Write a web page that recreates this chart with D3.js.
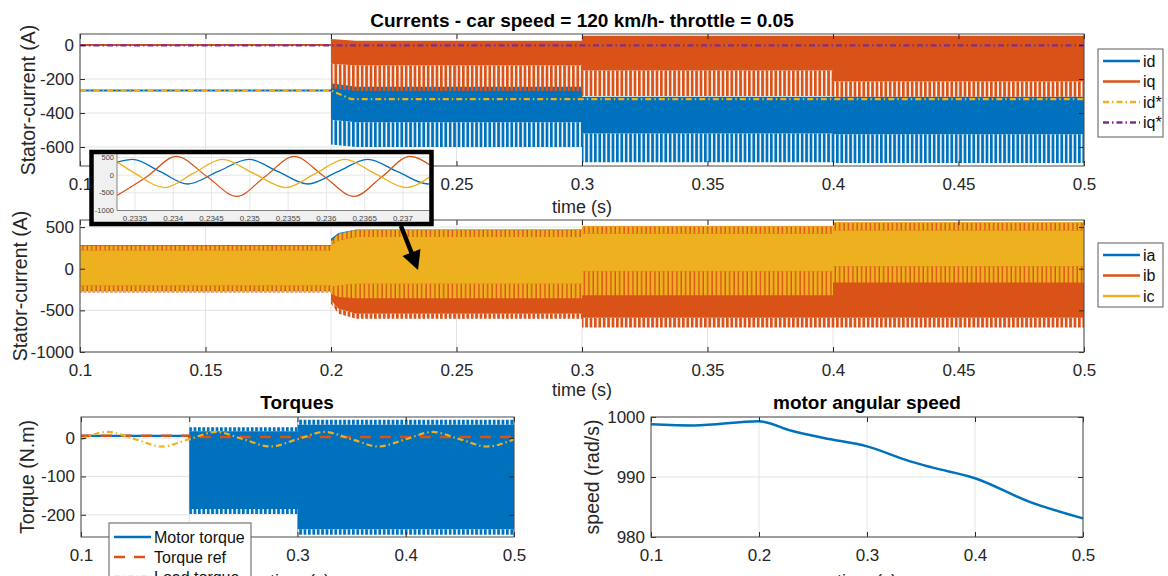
<!DOCTYPE html>
<html>
<head>
<meta charset="utf-8">
<script src="https://cdn.jsdelivr.net/npm/d3@7"></script>
<style>
  body { margin: 0; background: #fff; }
  svg { display: block; font-family: "Liberation Sans", Arial, Helvetica, sans-serif; }
</style>
</head>
<body>
<div id="chart"></div>
<script>
// ---------- values ----------
const timeTicks = [0.1, 0.15, 0.2, 0.25, 0.3, 0.35, 0.4, 0.45, 0.5];
const dqTicks = [0, -200, -400, -600];
const abcTicks = [500, 0, -500, -1000];
const smallTimeTicks = [0.1, 0.2, 0.3, 0.4, 0.5];
const torqueTicks = [0, -100, -200];
const speedTicks = [980, 990, 1000];
const insetTimeTicks = [0.2335, 0.234, 0.2345, 0.235, 0.2355, 0.236, 0.2365, 0.237, 0.2375];
const insetTicks = [500, 0, -500, -1000];

// d-q currents: envelopes of the oscillating traces (A)
const dqTime = [0.1, 0.2, 0.2, 0.21, 0.3, 0.3, 0.4, 0.4, 0.5];
const idHigh = [-262, -262, -225, -245, -245, -305, -305, -305, -305];
const idCore = [-274, -274, -440, -455, -455, -520, -520, -525, -525];
const idLow  = [-274, -274, -585, -600, -600, -690, -690, -695, -695];
const iqHigh = [6, 6, 35, 25, 25, 55, 55, 55, 55];
const iqCore = [-6, -6, -110, -120, -120, -150, -150, -215, -215];
const iqLow  = [-6, -6, -255, -270, -270, -300, -300, -305, -305];
const dqRefTime = [0.1, 0.2, 0.208, 0.5];
const idRef = [-268, -268, -318, -318];
const iqRef = [-2, -2, -2, -2];

// a-b-c currents: envelopes (A)
const abcTime = [0.1, 0.2, 0.2, 0.203, 0.21, 0.3, 0.3, 0.4, 0.4, 0.5];
const iaHigh = [280, 280, 360, 430, 470, 470, 500, 500, 540, 540];
const iaLow  = [-270, -270, -290, -320, -340, -340, -290, -290, -160, -160];
const ibHigh = [285, 285, 320, 410, 462, 462, 510, 510, 556, 556];
const ibCore = [-265, -265, -380, -480, -540, -540, -590, -590, -590, -590];
const ibLow  = [-285, -285, -420, -540, -600, -600, -705, -705, -705, -705];
const icHigh = [275, 275, 330, 420, 468, 468, 516, 516, 562, 562];
const icTopCore = [220, 220, 280, 340, 380, 380, 420, 420, 460, 460];
const icLowCore = [-200, -200, -220, -200, -180, -180, -30, -30, 30, 30];
const icLow  = [-280, -280, -300, -340, -355, -355, -320, -320, -165, -165];

// inset: zoom of the three phase currents
const iaZoomTime = [0.23327, 0.23347, 0.23383, 0.23419, 0.23458, 0.23499, 0.23537, 0.23576, 0.23615, 0.23654, 0.23693, 0.23733, 0.23738];
const iaZoom     = [370, 450, 100, -250, 100, 450, 100, -250, 100, 450, 100, -250, -240];
const ibZoomTime = [0.23327, 0.23366, 0.23404, 0.23444, 0.23483, 0.23520, 0.23558, 0.23597, 0.23636, 0.23673, 0.23709, 0.23738];
const ibZoom     = [-570, -35, 530, -35, -600, -35, 530, -35, -600, -35, 530, 250];
const icZoomTime = [0.23327, 0.23350, 0.23389, 0.23426, 0.23464, 0.23505, 0.23547, 0.23586, 0.23624, 0.23663, 0.23704, 0.23738];
const icZoom     = [370, 50, -350, 50, 450, 50, -350, 50, 450, 50, -350, 0];

// torques (N.m)
const torqueTime = [0.1, 0.2, 0.2, 0.3, 0.3, 0.5];
const motorHigh     = [9, 9, 28, 28, 48, 48];
const motorHighCore = [9, 9, 18, 18, 35, 35];
const motorLowCore  = [3, 3, -185, -185, -238, -238];
const motorLow      = [3, 3, -198, -198, -252, -252];
const refTime = [0.1, 0.2, 0.2, 0.5];
const torqueRef = [6, 6, 3, 3];
const loadTime = [0.1, 0.125, 0.15, 0.175, 0.2, 0.225, 0.25, 0.275, 0.3, 0.325, 0.35, 0.375, 0.4, 0.425, 0.45, 0.475, 0.5];
const loadTorque = [-3, 16, -3, -22, -3, 16, -3, -22, -3, 16, -3, -22, -3, 16, -3, -22, -3];

// motor angular speed (rad/s)
const speedTime = [0.1, 0.14, 0.2, 0.23, 0.26, 0.3, 0.34, 0.36, 0.4, 0.45, 0.5];
const speedValue = [998.8, 998.6, 999.3, 997.7, 996.5, 995.1, 992.6, 991.6, 989.8, 985.9, 983.1];

const dqNames = ["id", "iq", "id*", "iq*"];
const abcNames = ["ia", "ib", "ic"];
const torqueNames = ["Motor torque", "Torque ref", "Load torque"];

// ---------- drawing ----------
const blue = "#0072BD", orange = "#D95319", yellow = "#EDB120", purple = "#7E2F8E";
const ink = "#262626";
const dashDot = "6,3,1.5,3";

const svg = d3.select("#chart").append("svg")
    .attr("width", 1168)
    .attr("height", 576);
svg.append("rect").attr("width", 1168).attr("height", 576).attr("fill", "#fff");

const defs = svg.append("defs");
function stripes(id, color, bar) {
    const p = defs.append("pattern")
        .attr("id", id)
        .attr("patternUnits", "userSpaceOnUse")
        .attr("width", 4.4).attr("height", 10);
    p.append("rect").attr("width", bar).attr("height", 10).attr("fill", color);
}
stripes("stBlue", blue, 2.8);
stripes("stOrange", orange, 2.8);
stripes("stYellow", yellow, 3.0);

function grid(g, x, y, xt, yt, color) {
    const [b, t] = y.range(), [l, r] = x.range();
    g.append("g").selectAll("line").data(xt).join("line")
        .attr("x1", d => x(d)).attr("x2", d => x(d))
        .attr("y1", b).attr("y2", t)
        .attr("stroke", color || "#e3e3e3");
    g.append("g").selectAll("line").data(yt).join("line")
        .attr("x1", l).attr("x2", r)
        .attr("y1", d => y(d)).attr("y2", d => y(d))
        .attr("stroke", color || "#e3e3e3");
}

function band(g, x, y, time, lo, hi, fill) {
    const area = d3.area()
        .x(i => x(time[i]))
        .y0(i => y(lo[i]))
        .y1(i => y(hi[i]));
    g.append("path").attr("d", area(d3.range(time.length))).attr("fill", fill);
}

function trace(g, x, y, time, vals, color, width, dash, curve) {
    const line = d3.line()
        .x(i => x(time[i]))
        .y(i => y(vals[i]))
        .curve(curve || d3.curveLinear);
    g.append("path").attr("d", line(d3.range(time.length)))
        .attr("fill", "none")
        .attr("stroke", color)
        .attr("stroke-width", width)
        .attr("stroke-dasharray", dash || null);
}

function frame(g, x, y, xt, yt) {
    const [b, t] = y.range(), [l, r] = x.range();
    const fmt = d => String(d);
    const style = sel => {
        sel.select(".domain").remove();
        sel.selectAll(".tick line").attr("stroke", ink);
        sel.selectAll(".tick text").attr("fill", ink).style("font-size", "17px").style("font-family", "inherit");
    };
    g.append("g").attr("transform", `translate(0,${b})`)
        .call(d3.axisBottom(x).tickValues(xt).tickFormat(fmt).tickSizeInner(-5).tickSizeOuter(0).tickPadding(12))
        .call(style);
    g.append("g").attr("transform", `translate(0,${t})`)
        .call(d3.axisTop(x).tickValues(xt).tickFormat("").tickSizeInner(-5).tickSizeOuter(0))
        .call(style);
    g.append("g").attr("transform", `translate(${l},0)`)
        .call(d3.axisLeft(y).tickValues(yt).tickFormat(fmt).tickSizeInner(-5).tickSizeOuter(0).tickPadding(6))
        .call(style);
    g.append("g").attr("transform", `translate(${r},0)`)
        .call(d3.axisRight(y).tickValues(yt).tickFormat("").tickSizeInner(-5).tickSizeOuter(0))
        .call(style);
    g.append("rect")
        .attr("x", l).attr("y", t)
        .attr("width", r - l).attr("height", b - t)
        .attr("fill", "none").attr("stroke", "#4a4a4a");
}

function label(text, x, y, size, opts) {
    const o = opts || {};
    const t = svg.append("text")
        .attr("text-anchor", "middle")
        .attr("fill", o.color || ink)
        .style("font-size", size + "px")
        .style("font-weight", o.bold ? "bold" : "normal")
        .attr("dy", "0.35em")
        .text(text);
    if (o.rotate) t.attr("transform", `translate(${x},${y}) rotate(-90)`);
    else t.attr("x", x).attr("y", y);
    return t;
}

function legend(x0, y0, w, h, names, colors, dashes, rows) {
    const g = svg.append("g");
    g.append("rect").attr("x", x0).attr("y", y0).attr("width", w).attr("height", h)
        .attr("fill", "#fff").attr("stroke", "#5a5a5a");
    names.forEach((n, i) => {
        g.append("line")
            .attr("x1", x0 + 5).attr("x2", x0 + 42)
            .attr("y1", rows[i]).attr("y2", rows[i])
            .attr("stroke", colors[i]).attr("stroke-width", 2.5)
            .attr("stroke-dasharray", dashes[i]);
        g.append("text").attr("x", x0 + 45).attr("y", rows[i]).attr("dy", "0.35em")
            .attr("fill", "#111").style("font-size", "16px").text(n);
    });
}

// ---- top: d-q currents ----
const xTop = d3.scaleLinear().domain([0.1, 0.5]).range([80, 1084]);
const yTop = d3.scaleLinear().domain([-712, 65]).range([166, 34]);
const gTop = svg.append("g");
grid(gTop, xTop, yTop, timeTicks, dqTicks);
band(gTop, xTop, yTop, dqTime, idCore, idHigh, blue);
band(gTop, xTop, yTop, dqTime, idLow, idCore, "url(#stBlue)");
band(gTop, xTop, yTop, dqTime, iqCore, iqHigh, orange);
band(gTop, xTop, yTop, dqTime, iqLow, iqCore, "url(#stOrange)");
trace(gTop, xTop, yTop, dqRefTime, idRef, yellow, 2.2, dashDot);
trace(gTop, xTop, yTop, dqRefTime, iqRef, purple, 2.2, dashDot);
frame(gTop, xTop, yTop, timeTicks, dqTicks);
label("Currents - car speed = 120 km/h- throttle = 0.05", 582, 20, 19, {bold: true, color: "#000"});
label("time (s)", 582, 207, 18);
label("Stator-current (A)", 28, 100, 19.5, {rotate: true});
legend(1098, 49, 65, 88, dqNames, [blue, orange, yellow, purple], [null, null, dashDot, dashDot], [61, 81.5, 102, 122.5]);

// ---- middle: a-b-c currents ----
const xMid = d3.scaleLinear().domain([0.1, 0.5]).range([80, 1084]);
const yMid = d3.scaleLinear().domain([-1000, 585]).range([352, 220]);
const gMid = svg.append("g");
grid(gMid, xMid, yMid, timeTicks, abcTicks);
band(gMid, xMid, yMid, abcTime, iaLow, iaHigh, blue);
band(gMid, xMid, yMid, abcTime, ibCore, ibHigh, orange);
band(gMid, xMid, yMid, abcTime, ibLow, ibCore, "url(#stOrange)");
band(gMid, xMid, yMid, abcTime, icLowCore, icTopCore, yellow);
band(gMid, xMid, yMid, abcTime, icTopCore, icHigh, "url(#stYellow)");
band(gMid, xMid, yMid, abcTime, icLow, icLowCore, "url(#stYellow)");
frame(gMid, xMid, yMid, timeTicks, abcTicks);
label("time (s)", 582, 390, 18);
label("Stator-current (A)", 20, 286, 19.5, {rotate: true});
legend(1098, 243, 65, 64, abcNames, [blue, orange, yellow], [null, null, null], [255, 275.5, 296]);

// ---- bottom left: torques ----
const xTq = d3.scaleLinear().domain([0.1, 0.5]).range([81, 514]);
const yTq = d3.scaleLinear().domain([-258, 55]).range([537, 417]);
const gTq = svg.append("g");
grid(gTq, xTq, yTq, smallTimeTicks, torqueTicks);
band(gTq, xTq, yTq, torqueTime, motorLowCore, motorHighCore, blue);
band(gTq, xTq, yTq, torqueTime, motorHighCore, motorHigh, "url(#stBlue)");
band(gTq, xTq, yTq, torqueTime, motorLow, motorLowCore, "url(#stBlue)");
trace(gTq, xTq, yTq, refTime, torqueRef, orange, 2.5, "11,9");
trace(gTq, xTq, yTq, loadTime, loadTorque, yellow, 2.2, dashDot, d3.curveMonotoneX);
frame(gTq, xTq, yTq, smallTimeTicks, torqueTicks);
label("Torques", 297, 402, 19, {bold: true, color: "#000"});
label("time (s)", 300, 581, 18);
label("Torque (N.m)", 27, 477, 19.5, {rotate: true});
legend(109, 523, 142, 70, torqueNames, [blue, orange, yellow], [null, "11,9", dashDot], [537, 557, 577]);

// ---- bottom right: speed ----
const xSp = d3.scaleLinear().domain([0.1, 0.5]).range([651, 1083]);
const ySp = d3.scaleLinear().domain([980, 1000]).range([537, 417]);
const gSp = svg.append("g");
grid(gSp, xSp, ySp, smallTimeTicks, speedTicks);
trace(gSp, xSp, ySp, speedTime, speedValue, blue, 2.5, null, d3.curveMonotoneX);
frame(gSp, xSp, ySp, smallTimeTicks, speedTicks);
label("motor angular speed", 867, 402, 19, {bold: true, color: "#000"});
label("time (s)", 867, 581, 18);
label("speed (rad/s)", 592, 477, 19.5, {rotate: true});

// ---- inset zoom ----
const xIn = d3.scaleLinear().domain([0.233265, 0.2375]).range([117, 441.2]);
const yIn = d3.scaleLinear().domain([-1000, 600]).range([210.5, 154]);
defs.append("clipPath").attr("id", "insetClip")
    .append("rect").attr("x", 93.5).attr("y", 154).attr("width", 336).attr("height", 68);
const gIn = svg.append("g").attr("clip-path", "url(#insetClip)");
gIn.append("rect").attr("x", 90).attr("y", 150).attr("width", 345).attr("height", 76).attr("fill", "#f0f0f0");
gIn.append("rect").attr("x", 117).attr("y", 154).attr("width", 330).attr("height", 56.5).attr("fill", "#fff");
grid(gIn, xIn, yIn, insetTimeTicks, insetTicks, "#e6e6e6");
trace(gIn, xIn, yIn, iaZoomTime, iaZoom, blue, 1.3, null, d3.curveMonotoneX);
trace(gIn, xIn, yIn, ibZoomTime, ibZoom, orange, 1.3, null, d3.curveMonotoneX);
trace(gIn, xIn, yIn, icZoomTime, icZoom, yellow, 1.3, null, d3.curveMonotoneX);
gIn.append("line").attr("x1", 117).attr("x2", 117).attr("y1", 154).attr("y2", 210.5).attr("stroke", "#555").attr("stroke-width", 0.7);
gIn.append("line").attr("x1", 117).attr("x2", 441).attr("y1", 210.5).attr("y2", 210.5).attr("stroke", "#555").attr("stroke-width", 0.7);
gIn.append("g").selectAll("text").data(insetTicks).join("text")
    .attr("x", 114).attr("y", d => yIn(d)).attr("dy", "0.35em")
    .attr("text-anchor", "end").attr("fill", "#444").style("font-size", "7.5px")
    .text(d => String(d));
gIn.append("g").selectAll("text").data(insetTimeTicks).join("text")
    .attr("x", d => xIn(d)).attr("y", 218).attr("dy", "0.35em")
    .attr("text-anchor", "middle").attr("fill", "#444").style("font-size", "8px")
    .text(d => String(d));
svg.append("rect").attr("x", 91.5).attr("y", 152).attr("width", 340).attr("height", 72)
    .attr("fill", "none").attr("stroke", "#000").attr("stroke-width", 4.5);

// arrow from inset to the a-b-c plot
svg.append("line").attr("x1", 401).attr("y1", 226).attr("x2", 412).attr("y2", 254)
    .attr("stroke", "#000").attr("stroke-width", 4.5);
svg.append("path").attr("d", "M418,270 L402.5,256 L420.5,249 Z").attr("fill", "#000");
</script>
</body>
</html>
